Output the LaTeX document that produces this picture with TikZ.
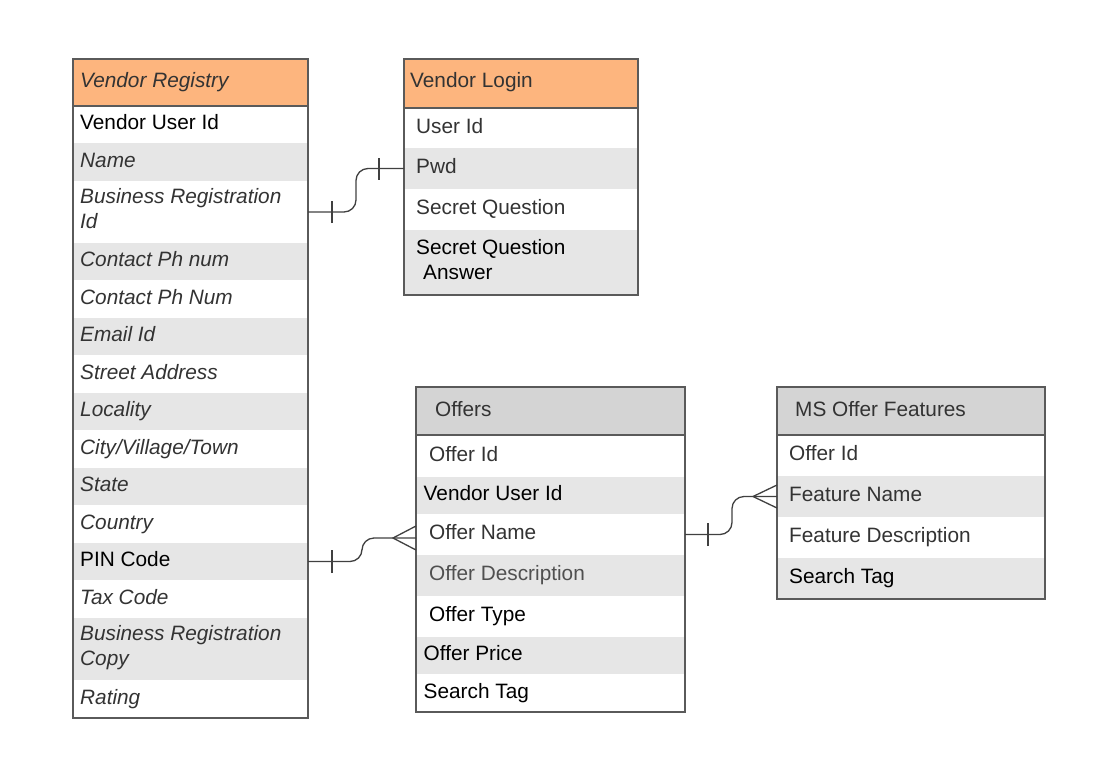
\documentclass[tikz,border=0pt]{standalone}
\usepackage{fontspec}
\setmainfont{Liberation Sans}
\definecolor{hdrorange}{RGB}{253,181,126}
\definecolor{hdrgray}{RGB}{212,212,212}
\definecolor{stripe}{RGB}{230,230,230}
\definecolor{edge}{RGB}{90,90,90}
\definecolor{txtgray}{RGB}{51,51,51}
\definecolor{txtlight}{RGB}{80,80,80}
\definecolor{lnk}{RGB}{64,64,64}
\tikzset{
 cell/.style={rectangle, inner sep=0pt, outer sep=0pt, anchor=north west, draw=none},
 wcell/.style={cell, fill=white},
 gcell/.style={cell, fill=stripe},
 ohead/.style={cell, fill=hdrorange, draw=edge, line width=1.3pt},
 ghead/.style={cell, fill=hdrgray, draw=edge, line width=1.3pt},
 frame/.style={cell, draw=edge, line width=1.3pt},
 lbl/.style={anchor=base west, inner sep=0pt, font=\fontsize{20.8}{25.5}\selectfont, text=txtgray, align=left},
 lblk/.style={lbl, text=black},
 lbli/.style={lbl, font=\fontsize{20.8}{25.5}\selectfont\itshape},
 link/.style={draw=lnk, line width=1.3pt, rounded corners=12pt},
 tick/.style={draw=lnk, line width=1.3pt},
}
\begin{document}
\begin{tikzpicture}[x=1pt,y=-1pt]
\useasboundingbox (0,0) rectangle (1119,777);
% ---------- Vendor Registry ----------
\node[wcell, minimum width=235pt, minimum height=37pt] (vr1) at (73,106) {};
\node[gcell, minimum width=235pt, minimum height=38pt] (vr2) at (73,143) {};
\node[wcell, minimum width=235pt, minimum height=62pt] (vr3) at (73,181) {};
\node[gcell, minimum width=235pt, minimum height=37pt] (vr4) at (73,243) {};
\node[wcell, minimum width=235pt, minimum height=38pt] (vr5) at (73,280) {};
\node[gcell, minimum width=235pt, minimum height=37pt] (vr6) at (73,318) {};
\node[wcell, minimum width=235pt, minimum height=38pt] (vr7) at (73,355) {};
\node[gcell, minimum width=235pt, minimum height=37pt] (vr8) at (73,393) {};
\node[wcell, minimum width=235pt, minimum height=38pt] (vr9) at (73,430) {};
\node[gcell, minimum width=235pt, minimum height=37pt] (vr10) at (73,468) {};
\node[wcell, minimum width=235pt, minimum height=38pt] (vr11) at (73,505) {};
\node[gcell, minimum width=235pt, minimum height=37pt] (vr12) at (73,543) {};
\node[wcell, minimum width=235pt, minimum height=38pt] (vr13) at (73,580) {};
\node[gcell, minimum width=235pt, minimum height=62pt] (vr14) at (73,618) {};
\node[wcell, minimum width=235pt, minimum height=38pt] (vr15) at (73,680) {};
\node[frame, minimum width=235pt, minimum height=659pt] (vr) at (73,59) {};
\node[ohead, minimum width=235pt, minimum height=47pt] (vrh) at (73,59) {};
% ---------- Vendor Login ----------
\node[wcell, minimum width=234pt, minimum height=40pt] (vl1) at (404,108) {};
\node[gcell, minimum width=234pt, minimum height=41pt] (vl2) at (404,148) {};
\node[wcell, minimum width=234pt, minimum height=41pt] (vl3) at (404,189) {};
\node[gcell, minimum width=234pt, minimum height=65pt] (vl4) at (404,230) {};
\node[frame, minimum width=234pt, minimum height=236pt] (vl) at (404,59) {};
\node[ohead, minimum width=234pt, minimum height=49pt] (vlh) at (404,59) {};
% ---------- Offers ----------
\node[wcell, minimum width=269pt, minimum height=42pt] (of1) at (416,435) {};
\node[gcell, minimum width=269pt, minimum height=37pt] (of2) at (416,477) {};
\node[wcell, minimum width=269pt, minimum height=41pt] (of3) at (416,514) {};
\node[gcell, minimum width=269pt, minimum height=41pt] (of4) at (416,555) {};
\node[wcell, minimum width=269pt, minimum height=41pt] (of5) at (416,596) {};
\node[gcell, minimum width=269pt, minimum height=37pt] (of6) at (416,637) {};
\node[wcell, minimum width=269pt, minimum height=38pt] (of7) at (416,674) {};
\node[frame, minimum width=269pt, minimum height=325pt] (of) at (416,387) {};
\node[ghead, minimum width=269pt, minimum height=48pt] (ofh) at (416,387) {};
% ---------- MS Offer Features ----------
\node[wcell, minimum width=268pt, minimum height=41pt] (ms1) at (777,435) {};
\node[gcell, minimum width=268pt, minimum height=41pt] (ms2) at (777,476) {};
\node[wcell, minimum width=268pt, minimum height=41pt] (ms3) at (777,517) {};
\node[gcell, minimum width=268pt, minimum height=41pt] (ms4) at (777,558) {};
\node[frame, minimum width=268pt, minimum height=212pt] (ms) at (777,387) {};
\node[ghead, minimum width=268pt, minimum height=48pt] (msh) at (777,387) {};
% ---------- Connectors ----------
\draw[link] (vr3.east) -- ++(48,0) |- (vl2.west);
\draw[tick] ([xshift=24pt,yshift=-11pt]vr3.east) -- ([xshift=24pt,yshift=11pt]vr3.east);
\draw[tick] ([xshift=-25pt,yshift=-11pt]vl2.west) -- ([xshift=-25pt,yshift=11pt]vl2.west);
\coordinate (c2end) at ([yshift=-3.5pt]of3.west);
\draw[link] (vr12.east) -- ++(54,0) |- (c2end);
\draw[tick] ([xshift=24pt,yshift=-11.5pt]vr12.east) -- ([xshift=24pt,yshift=11.5pt]vr12.east);
\draw[tick] ([yshift=12pt]c2end) -- ([xshift=-23pt]c2end) -- ([yshift=-12pt]c2end);
\draw[link] (of3.east) -- ++(47,0) |- (ms2.west);
\draw[tick] ([xshift=23pt,yshift=-11.5pt]of3.east) -- ([xshift=23pt,yshift=11.5pt]of3.east);
\draw[tick] ([yshift=11.5pt]ms2.west) -- ([xshift=-24pt]ms2.west) -- ([yshift=-11.5pt]ms2.west);
% ---------- Texts: Vendor Registry ----------
\node[lbli] (vrht) at (80,87) {Vendor Registry};
\node[lblk] (vr1t) at (80,129.5) {Vendor User Id};
\node[lbli] (vr2t) at (80,167) {Name};
\node[lbli] (vr3t) at (80,228.5) {Business Registration\\Id};
\node[lbli] (vr4t) at (80,266.5) {Contact Ph num};
\node[lbli] (vr5t) at (80,304) {Contact Ph Num};
\node[lbli] (vr6t) at (80,341.5) {Email Id};
\node[lbli] (vr7t) at (80,379) {Street Address};
\node[lbli] (vr8t) at (80,416.5) {Locality};
\node[lbli] (vr9t) at (80,454) {City/Village/Town};
\node[lbli] (vr10t) at (80,491.5) {State};
\node[lbli] (vr11t) at (80,529) {Country};
\node[lblk] (vr12t) at (80,566.5) {PIN Code};
\node[lbli] (vr13t) at (80,604) {Tax Code};
\node[lbli] (vr14t) at (80,665.5) {Business Registration\\Copy};
\node[lbli] (vr15t) at (80,704) {Rating};
% ---------- Texts: Vendor Login ----------
\node[lbl] (vlht) at (410,87.5) {Vendor Login};
\node[lbl] (vl1t) at (416,133) {User Id};
\node[lbl] (vl2t) at (416,173.5) {Pwd};
\node[lbl] (vl3t) at (416,214.5) {Secret Question};
\node[lblk] (vl4t) at (416,279.5) {Secret Question\\\hspace*{7pt}Answer};
% ---------- Texts: Offers ----------
\node[lbl] (ofht) at (435,416.5) {Offers};
\node[lbl] (of1t) at (429,461) {Offer Id};
\node[lblk] (of2t) at (423.5,500.5) {Vendor User Id};
\node[lbl] (of3t) at (429,539.5) {Offer Name};
\node[lbl, text=txtlight] (of4t) at (429,580.5) {Offer Description};
\node[lblk] (of5t) at (429,621.5) {Offer Type};
\node[lblk] (of6t) at (423.5,660.5) {Offer Price};
\node[lblk] (of7t) at (423.5,698) {Search Tag};
% ---------- Texts: MS Offer Features ----------
\node[lbl] (msht) at (795,416.5) {MS Offer Features};
\node[lbl] (ms1t) at (789,460.5) {Offer Id};
\node[lbl] (ms2t) at (789,501.5) {Feature Name};
\node[lbl] (ms3t) at (789,542.5) {Feature Description};
\node[lblk] (ms4t) at (789,583.5) {Search Tag};
\end{tikzpicture}
\end{document}
